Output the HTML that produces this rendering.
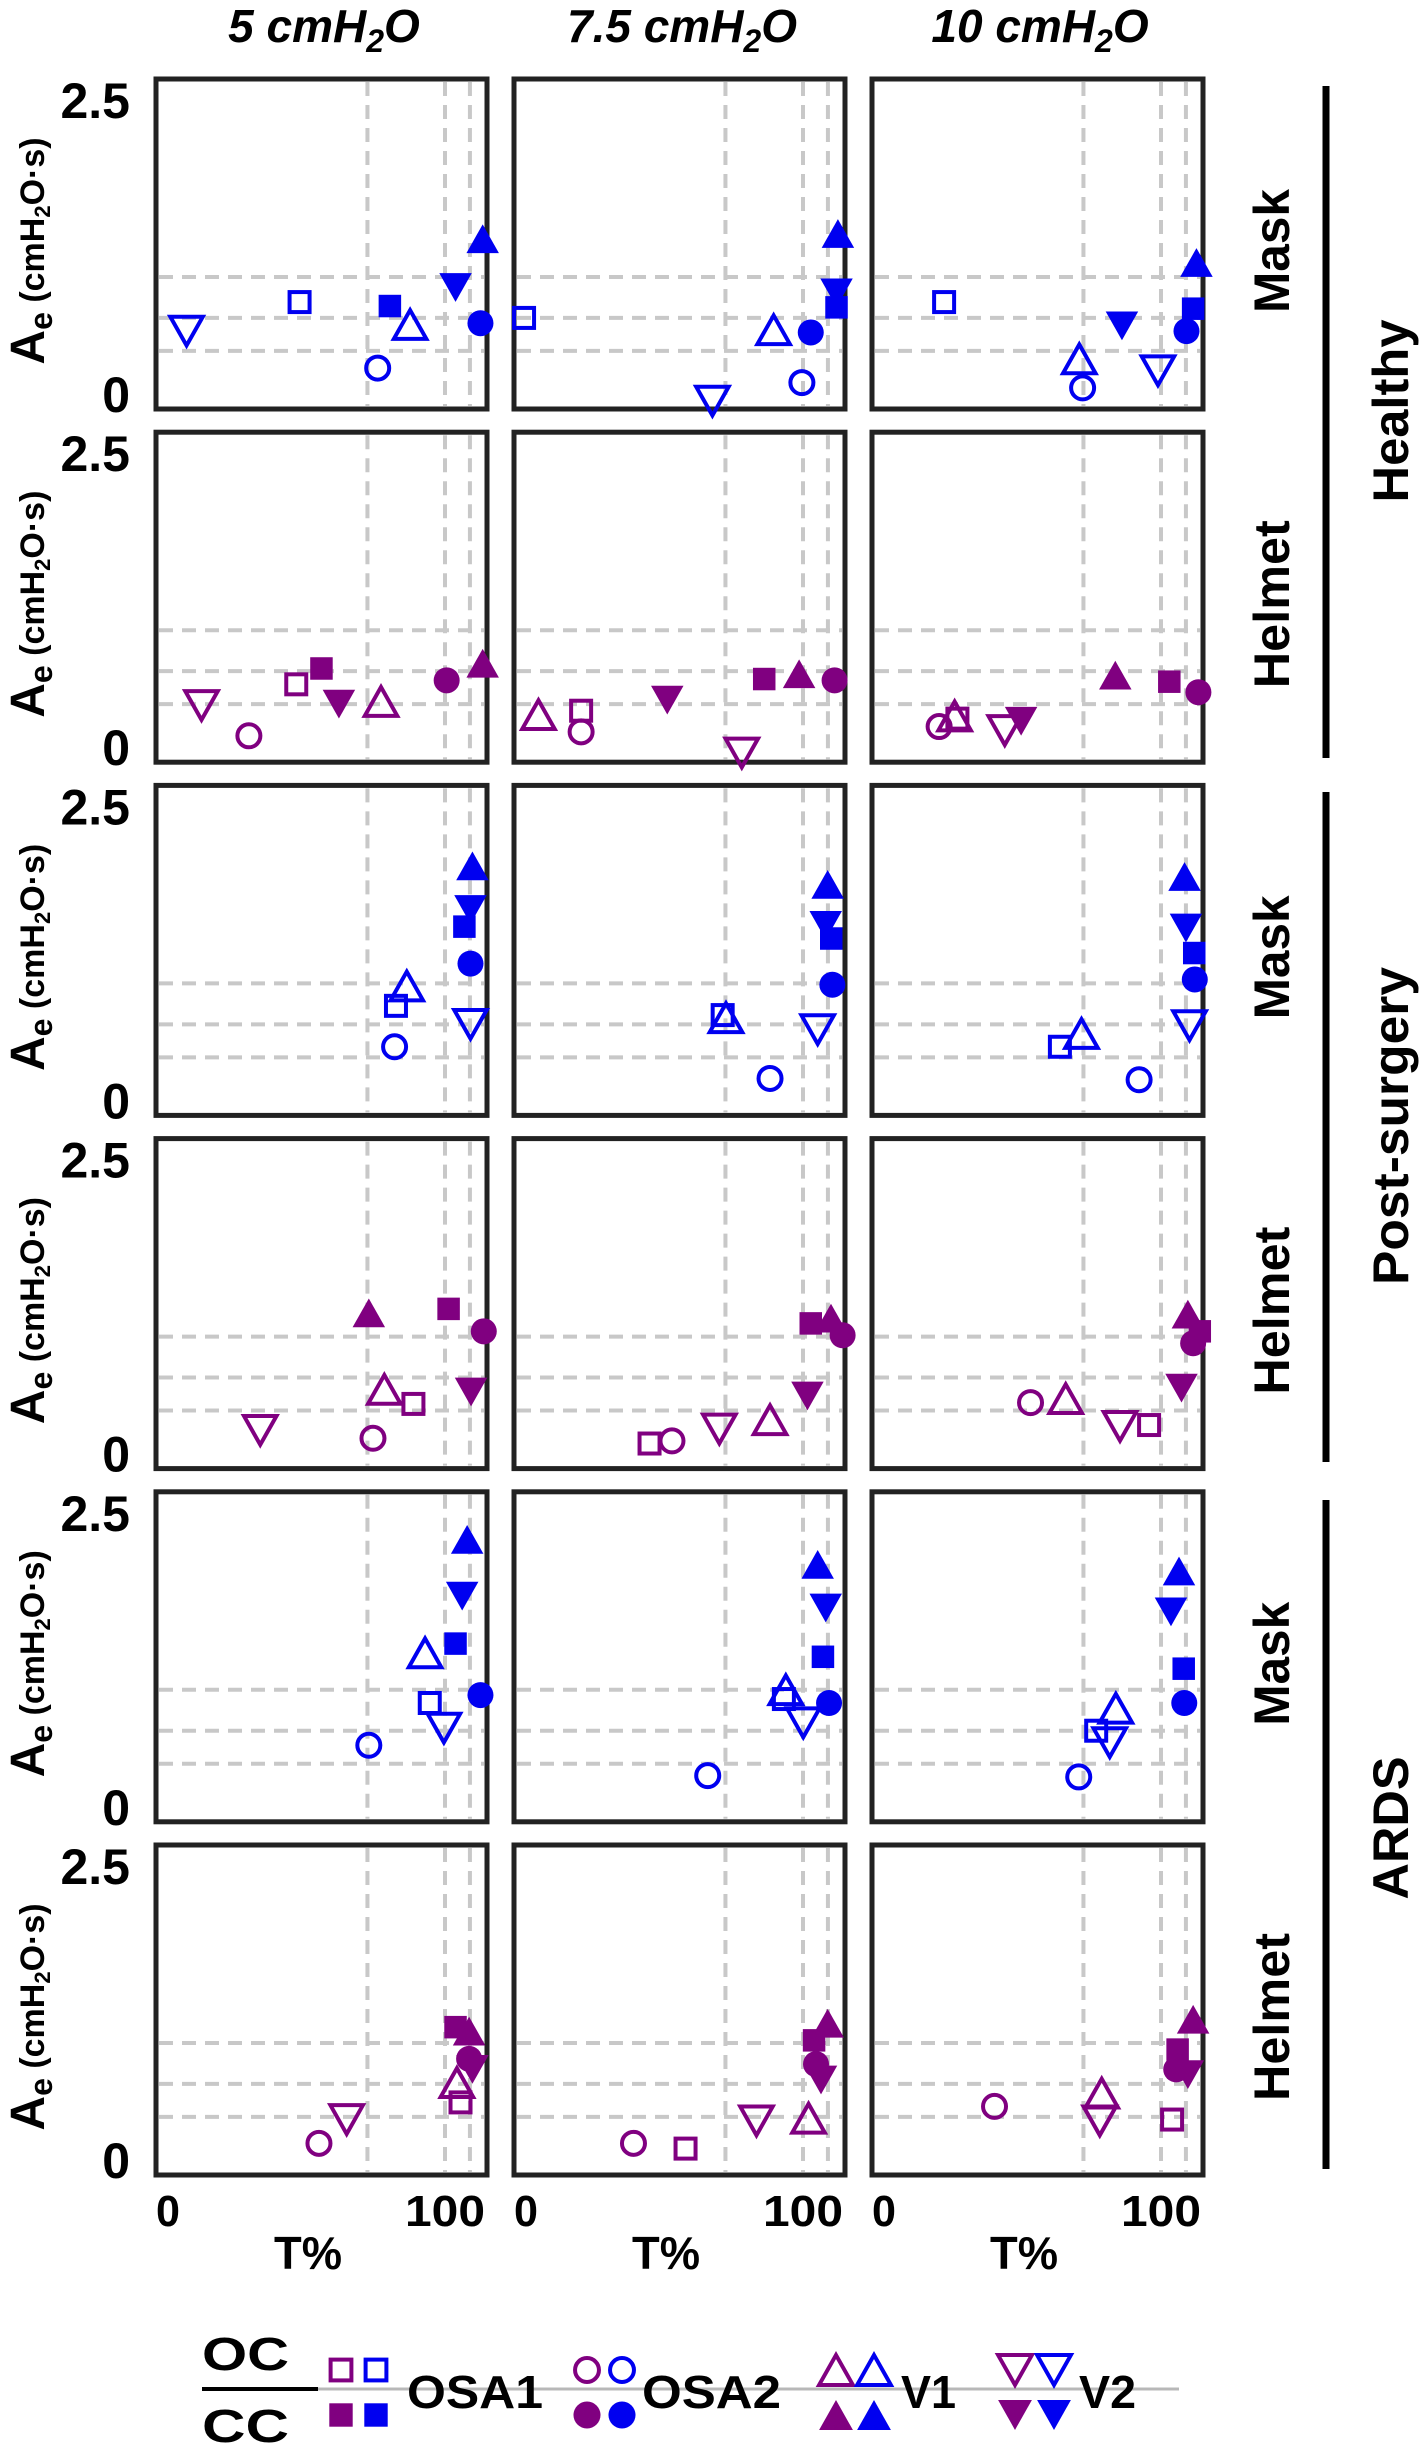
<!DOCTYPE html>
<html>
<head>
<meta charset="utf-8">
<style>
  html, body { margin: 0; padding: 0; background: #ffffff; }
  svg { display: block; font-family: "Liberation Sans", Arial, sans-serif; }
</style>
</head>
<body>
<svg id="fig" width="1420" height="2446" viewBox="0 0 1420 2446" xmlns="http://www.w3.org/2000/svg">
  <rect x="0" y="0" width="1420" height="2446" fill="#ffffff"/>
  <g id="panels"></g>
  <g id="labels"></g>
  <g id="legend"></g>
</svg>
<script>
// ---- data (panel order: row-major; rows = Healthy-Mask, Healthy-Helmet, Post-Mask, Post-Helmet, ARDS-Mask, ARDS-Helmet; cols = 5, 7.5, 10 cmH2O)
const pressureLabels = ["5", "7.5", "10"];
const interfaceLabels = ["Mask", "Helmet", "Mask", "Helmet", "Mask", "Helmet"];
const groupLabels = ["Healthy", "Post-surgery", "ARDS"];
const yTickLabels = ["2.5", "0"];
const xTickLabels = ["0", "100"];
const xTickValues = [0, 100];
const gridX = [72, 100, 109];
const gridY = [1.0, 0.69, 0.44];

const osa1OcT = [47.5,-0.7,21.7, 46.3,19.9,26.5, 82.3,71,63.5, 88.6,44.6,95.7, 94.5,93.1,76.6, 105.6,57.6,104];
const osa1OcA = [0.81,0.69,0.81, 0.59,0.39,0.33, 0.83,0.76,0.52, 0.49,0.19,0.33, 0.90,0.93,0.69, 0.55,0.20,0.42];
const osa1CcT = [80.1,112.1,111.6, 55.4,86,103, 107,110.2,112, 101.3,102.8,114, 103.8,107.2,108.2, 103.8,104,106];
const osa1CcA = [0.78,0.77,0.76, 0.71,0.63,0.61, 1.43,1.34,1.23, 1.21,1.10,1.04, 1.35,1.25,1.16, 1.12,1.02,0.95];
const osa2OcT = [75.7,99.6,71.7, 29.2,19.9,19.9, 81.8,88.1,92.1, 74,52.7,52.9, 72.5,65.6,70.3, 54.5,38.8,39.9];
const osa2OcA = [0.31,0.20,0.16, 0.20,0.23,0.27, 0.52,0.28,0.27, 0.23,0.21,0.50, 0.58,0.35,0.34, 0.24,0.24,0.52];
const osa2CcT = [112.8,102.8,109.2, 100.6,111.4,113.5, 109.2,110.6,112.2, 114,114.3,111.6, 112.8,109.4,108.4, 108.7,104.7,105.5];
const osa2CcA = [0.65,0.58,0.59, 0.62,0.62,0.53, 1.15,0.99,1.03, 1.04,1.01,0.95, 0.96,0.90,0.90, 0.88,0.84,0.80];
const v1OcT = [87.4,89.4,70.5, 76.9,4.5,25.5, 86.2,72.2,71.3, 78.1,88.1,65.6, 92.8,93.8,83.7, 104.3,102,78.6];
const v1OcA = [0.64,0.60,0.38, 0.46,0.36,0.35, 0.98,0.74,0.62, 0.60,0.37,0.53, 1.28,1.00,0.86, 0.70,0.43,0.62];
const v1CcT = [113.6,112.6,112.8, 113.6,98.6,83.5, 109.9,108.9,108.5, 72.5,110.1,109.7, 108,105.3,106.5, 108.7,108.9,111.6];
const v1CcA = [1.29,1.33,1.11, 0.75,0.67,0.66, 1.89,1.75,1.81, 1.18,1.14,1.17, 2.14,1.95,1.90, 1.09,1.15,1.18];
const v2OcT = [6.7,67.3,98.9, 12.1,77.9,43.6, 109.2,105.3,110.3, 33.3,69.8,85.2, 99.6,100.1,81.5, 64.5,83.2,77.9];
const v2OcA = [0.59,0.06,0.29, 0.43,0.07,0.24, 0.69,0.65,0.68, 0.29,0.30,0.32, 0.71,0.75,0.60, 0.42,0.41,0.41];
const v2CcT = [103.8,112.1,85.9, 61.7,51,49.5, 109.2,108.2,109, 109.4,101.6,107.4, 106.2,108.2,103.6, 109.9,106.5,109.7];
const v2CcA = [0.92,0.88,0.63, 0.44,0.47,0.31, 1.56,1.44,1.42, 0.58,0.55,0.61, 1.71,1.62,1.59, 0.80,0.72,0.76];

const NS = "http://www.w3.org/2000/svg";
const BLUE = "#0000f0", PURPLE = "#800080";
const PW = 331, PH = 330;
function panelLeft(c) { return 156 + 358 * c; }
function panelTop(r) { return 79 + 353.2 * r; }
function xScale(c, t) { return panelLeft(c) + 12 + t * 2.77; }
function yScale(r, v) { return panelTop(r) + PH - v * (PH / 2.5); }

function mk(tag, attrs, parent) {
  const e = document.createElementNS(NS, tag);
  for (const k in attrs) e.setAttribute(k, attrs[k]);
  parent.appendChild(e);
  return e;
}

function marker(parent, shape, filled, color, cx, cy, s) {
  let el;
  const common = filled ? { fill: color, stroke: "none" } : { fill: "none", stroke: color, "stroke-width": 4 };
  if (shape === "square") {
    const w = filled ? s * 0.9 : s * 0.8;
    el = mk("rect", Object.assign({ x: cx - w / 2, y: cy - w / 2, width: w, height: w }, common), parent);
  } else if (shape === "circle") {
    el = mk("circle", Object.assign({ cx: cx, cy: cy, r: filled ? s * 0.52 : s * 0.46 }, common), parent);
  } else if (shape === "up") {
    const w = s * 1.3, h = s * 1.15;
    el = mk("polygon", Object.assign({ points: `${cx - w / 2},${cy + h / 2} ${cx + w / 2},${cy + h / 2} ${cx},${cy - h / 2}` }, common), parent);
  } else {
    const w = s * 1.3, h = s * 1.15;
    el = mk("polygon", Object.assign({ points: `${cx - w / 2},${cy - h / 2} ${cx + w / 2},${cy - h / 2} ${cx},${cy + h / 2}` }, common), parent);
  }
  return el;
}

const seriesDefs = [
  { key: "osa1-oc", shape: "square", filled: false, T: osa1OcT, A: osa1OcA },
  { key: "osa1-cc", shape: "square", filled: true, T: osa1CcT, A: osa1CcA },
  { key: "osa2-oc", shape: "circle", filled: false, T: osa2OcT, A: osa2OcA },
  { key: "osa2-cc", shape: "circle", filled: true, T: osa2CcT, A: osa2CcA },
  { key: "v1-oc", shape: "up", filled: false, T: v1OcT, A: v1OcA },
  { key: "v1-cc", shape: "up", filled: true, T: v1CcT, A: v1CcA },
  { key: "v2-oc", shape: "down", filled: false, T: v2OcT, A: v2OcA },
  { key: "v2-cc", shape: "down", filled: true, T: v2CcT, A: v2CcA }
];

const panelsG = document.getElementById("panels");
const labelsG = document.getElementById("labels");

for (let r = 0; r < 6; r++) {
  for (let c = 0; c < 3; c++) {
    const p = r * 3 + c;
    const L = panelLeft(c), T0 = panelTop(r);
    const g = mk("g", {}, panelsG);
    
    
    gridY.forEach(v => {
      const y = yScale(r, v);
      const ln = mk("line", { x1: L + 3, x2: L + PW - 3, y1: y, y2: y, stroke: "#c8c8c8", "stroke-width": 4, "stroke-dasharray": "14 9" }, g);
      
      
    });
    gridX.forEach(t => {
      const x = xScale(c, t);
      const ln = mk("line", { x1: x, x2: x, y1: T0 + 3, y2: T0 + PH - 3, stroke: "#c8c8c8", "stroke-width": 4, "stroke-dasharray": "14 9" }, g);
      
      
    });
    const border = mk("rect", { x: L, y: T0, width: PW, height: PH, fill: "none", stroke: "#222", "stroke-width": 5 }, g);
    
    
    seriesDefs.forEach(sd => {
      const color = (r % 2 === 0) ? BLUE : PURPLE;
      const m = marker(g, sd.shape, sd.filled, color, xScale(c, sd.T[p]), yScale(r, sd.A[p]), 25);
      
      
    });
  }
  const t1 = mk("text", { x: 130, y: panelTop(r) + 39, "text-anchor": "end", "font-size": 50, "font-weight": "bold", fill: "#000" }, labelsG);
  t1.textContent = yTickLabels[0];
  
  
  const t0 = mk("text", { x: 130, y: panelTop(r) + 333, "text-anchor": "end", "font-size": 50, "font-weight": "bold", fill: "#000" }, labelsG);
  t0.textContent = yTickLabels[1];
  
  
  const cy = panelTop(r) + 172;
  const yt = mk("text", { x: 0, y: 0, "text-anchor": "middle", "font-weight": "bold", fill: "#000", transform: `translate(44,${cy}) rotate(-90)` }, labelsG);
  
  
  yt.innerHTML = '<tspan font-size="48">A</tspan><tspan font-size="32" dy="8">e</tspan><tspan font-size="34" dy="-8"> (cmH</tspan><tspan font-size="22" dy="6">2</tspan><tspan font-size="34" dy="-6">O·s)</tspan>';
  const il = mk("text", { x: 0, y: 0, "text-anchor": "middle", "font-size": 50, "font-weight": "bold", fill: "#000", textLength: interfaceLabels[r] === "Mask" ? 124 : 168, lengthAdjust: "spacingAndGlyphs", transform: `translate(1289,${panelTop(r) + 172}) rotate(-90)` }, labelsG);
  il.textContent = interfaceLabels[r];
  
  
}

for (let c = 0; c < 3; c++) {
  const L = panelLeft(c);
  const tt = mk("text", { x: 0, y: 0, "text-anchor": "middle", "font-size": 46, "font-weight": "bold", "font-style": "italic", fill: "#000", transform: `translate(${L + 168},42)` }, labelsG);
  
  
  tt.innerHTML = pressureLabels[c] + ' cmH<tspan font-size="32" dy="10">2</tspan><tspan dy="-10">O</tspan>';
  xTickValues.forEach((v, i) => {
    const xt = mk("text", { x: xScale(c, v), y: 2226, "text-anchor": "middle", "font-size": 44, "font-weight": "bold", fill: "#000" }, labelsG);
    if (i === 1) { xt.setAttribute("textLength", 80); xt.setAttribute("lengthAdjust", "spacingAndGlyphs"); }
    else { xt.setAttribute("textLength", 24); xt.setAttribute("lengthAdjust", "spacingAndGlyphs"); }
    xt.textContent = xTickLabels[i];
    
    
  });
  const xl = mk("text", { x: L + 152, y: 2269, "text-anchor": "middle", "font-size": 46, "font-weight": "bold", fill: "#000", textLength: 68, lengthAdjust: "spacingAndGlyphs" }, labelsG);
  xl.textContent = "T%";
  
  
}

const groupCenters = [411, 1126, 1828];
const groupLens = [183, 318, 143];
const groupLines = [[86, 758], [792, 1462], [1500, 2169]];
for (let i = 0; i < 3; i++) {
  const ln = mk("line", { x1: 1326, x2: 1326, y1: groupLines[i][0], y2: groupLines[i][1], stroke: "#000", "stroke-width": 7 }, labelsG);
  
  
  const gt = mk("text", { x: 0, y: 0, "text-anchor": "middle", "font-size": 50, "font-weight": "bold", fill: "#000", textLength: groupLens[i], lengthAdjust: "spacingAndGlyphs", transform: `translate(1408,${groupCenters[i]}) rotate(-90)` }, labelsG);
  gt.textContent = groupLabels[i];
  
  
}

const lg = document.getElementById("legend");
const gl = mk("line", { x1: 318, x2: 1179, y1: 2389, y2: 2389, stroke: "#b8b8b8", "stroke-width": 3 }, lg);


const bl = mk("line", { x1: 202, x2: 318, y1: 2389, y2: 2389, stroke: "#000", "stroke-width": 4 }, lg);


const oc = mk("text", { x: 202, y: 2370, "font-size": 46, "font-weight": "bold", fill: "#000", textLength: 87, lengthAdjust: "spacingAndGlyphs" }, lg);
oc.textContent = "OC";


const cc = mk("text", { x: 202, y: 2442, "font-size": 46, "font-weight": "bold", fill: "#000", textLength: 87, lengthAdjust: "spacingAndGlyphs" }, lg);
cc.textContent = "CC";


const legItems = [
  { name: "OSA1", shape: "square", mx: [341, 376], tx: 407, tl: 136 },
  { name: "OSA2", shape: "circle", mx: [587, 622], tx: 642, tl: 139 },
  { name: "V1", shape: "up", mx: [836, 874], tx: 901, tl: 55 },
  { name: "V2", shape: "down", mx: [1015, 1054], tx: 1079, tl: 57 }
];
legItems.forEach(it => {
  [false, true].forEach(filled => {
    [PURPLE, BLUE].forEach((col, j) => {
      const m = marker(lg, it.shape, filled, col, it.mx[j], filled ? 2415 : 2370, 26);
      
      
    });
  });
  const t = mk("text", { x: it.tx, y: 2408, "font-size": 46, "font-weight": "bold", fill: "#000", textLength: it.tl, lengthAdjust: "spacingAndGlyphs" }, lg);
  t.textContent = it.name;
  
  
});
</script>
</body>
</html>
